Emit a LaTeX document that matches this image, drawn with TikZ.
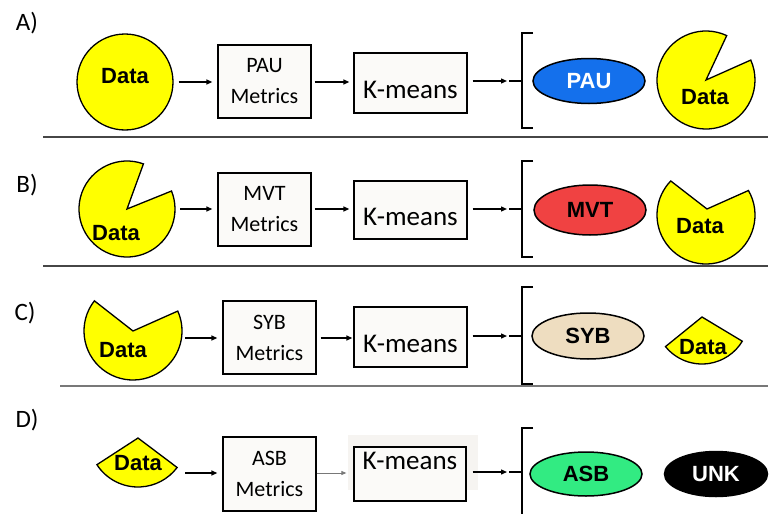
\documentclass[tikz,border=0pt]{standalone}
\usepackage{fontspec}
\setmainfont{Carlito}
\newfontfamily\arialfont{Liberation Sans}
\usetikzlibrary{arrows.meta,shapes.geometric,calc}

\definecolor{datayellow}{RGB}{255,255,0}
\definecolor{paublue}{RGB}{20,112,236}
\definecolor{mvtred}{RGB}{240,66,66}
\definecolor{sybtan}{RGB}{238,221,192}
\definecolor{asbgreen}{RGB}{50,235,130}
\definecolor{boxfill}{RGB}{251,250,248}
\definecolor{kmshade}{RGB}{246,244,241}
\definecolor{sepgray}{RGB}{70,70,70}
\definecolor{sepgraylight}{RGB}{120,120,120}

\tikzset{
  panellabel/.style={font=\fontsize{25}{30}\selectfont, inner sep=0},
  metbox/.style={draw, line width=1.3pt, fill=boxfill, minimum width=93pt,
    minimum height=73pt, align=center, inner sep=0,
    font=\fontsize{22}{31}\selectfont},
  kmbox/.style={draw=black, line width=1.3pt, fill=boxfill, minimum width=113pt, inner sep=0},
  kmtext/.style={font=\fontsize{27}{32}\selectfont, inner sep=0},
  flow/.style={line width=1.3pt, -{Triangle[length=6pt,width=5pt]}},
  sepline/.style={line width=1.2pt, draw=sepgray},
  brk/.style={line width=1.3pt},
  cls/.style={ellipse, draw, line width=1.5pt, inner sep=0,
    font=\arialfont\bfseries\fontsize{22}{26}\selectfont},
  pie/.style={fill=datayellow, draw, line width=1.3pt, line join=miter},
  datatext/.style={font=\arialfont\bfseries\fontsize{22}{26}\selectfont, inner sep=0},
}

\begin{document}
\begin{tikzpicture}[x=1pt,y=1pt]
\useasboundingbox (0,0) rectangle (771,-514);

% ---------- A) ----------
\node[panellabel] (labA) at (27,-23) {A)};
\node[circle, pie, minimum size=96pt, inner sep=0] (dataA) at (125,-82) {};
\node[datatext] (dtA) at (125,-76) {Data};
\node[metbox] (metA) at (264.5,-81.5) {PAU\\Metrics};
\node[kmbox, minimum height=60pt] (kmA) at (410.5,-83) {};
\node[kmtext] (kmtA) at (410.5,-90) {K-means};
\coordinate (tipA) at (507,-81);
\draw[flow, shorten <=5pt, shorten >=5pt] (dataA.east) -- (metA.west |- dataA.east);
\draw[flow, shorten <=3pt, shorten >=4pt] (metA.east |- dataA.east) -- (kmA.west |- dataA.east);
\draw[flow, shorten <=5pt] (kmA.east |- tipA) -- (tipA);
\draw[brk] (533,-33) -- (522,-33) -- (522,-128) -- (533,-128);
\draw[brk] (522,-81) -- (509,-81);
\node[cls, fill=paublue, text=white, minimum width=112pt, minimum height=45pt] (pau) at (589,-81) {PAU};
\draw[pie] (706,-80) -- ++(65:49) arc[start angle=65, end angle=384, radius=49] -- cycle;
\node[datatext] (outA) at (705,-97) {Data};
\draw[sepline] (43,-137) -- (768,-137);

% ---------- B) ----------
\node[panellabel] (labB) at (27,-185) {B)};
\draw[pie] (127,-209) -- ++(70:48) arc[start angle=70, end angle=382, radius=48] -- cycle;
\node[datatext] (dataB) at (116,-233) {Data};
\coordinate (startB) at (175,-209);
\node[metbox] (metB) at (264.5,-209.5) {MVT\\Metrics};
\node[kmbox, minimum height=58pt] (kmB) at (410.5,-210) {};
\node[kmtext] (kmtB) at (410.5,-217) {K-means};
\coordinate (tipB) at (507,-209);
\draw[flow, shorten <=5pt, shorten >=5pt] (startB) -- (metB.west |- startB);
\draw[flow, shorten <=3pt, shorten >=4pt] (metB.east |- startB) -- (kmB.west |- startB);
\draw[flow, shorten <=5pt] (kmB.east |- tipB) -- (tipB);
\draw[brk] (533,-161) -- (522,-161) -- (522,-257) -- (533,-257);
\draw[brk] (522,-209) -- (509,-209);
\node[cls, fill=mvtred, minimum width=112pt, minimum height=50pt] (mvt) at (590,-210) {MVT};
\draw[pie] (707,-209) -- ($(706,-215)+(30:49)$) arc[start angle=30, end angle=-224, radius=49] -- cycle;
\node[datatext] (outB) at (700,-226) {Data};
\draw[sepline] (43,-266) -- (768,-266);

% ---------- C) ----------
\node[panellabel] (labC) at (25,-313) {C)};
\draw[pie] (133,-331) -- ++(142:49) arc[start angle=142, end angle=384, radius=49] -- cycle;
\node[datatext] (dataC) at (123,-350) {Data};
\coordinate (startC) at (182,-338);
\node[metbox] (metC) at (269.5,-337.5) {SYB\\Metrics};
\node[kmbox, minimum height=60pt] (kmC) at (410.5,-337) {};
\node[kmtext] (kmtC) at (410.5,-344) {K-means};
\coordinate (tipC) at (507,-336);
\draw[flow, shorten <=3pt, shorten >=5pt] (startC) -- (metC.west |- startC);
\draw[flow, shorten <=4pt, shorten >=1pt] (metC.east |- startC) -- (kmC.west |- startC);
\draw[flow, shorten <=5pt] (kmC.east |- tipC) -- (tipC);
\draw[brk] (533,-287) -- (522,-287) -- (522,-384) -- (533,-384);
\draw[brk] (522,-336) -- (509,-336);
\node[cls, fill=sybtan, minimum width=112pt, minimum height=46pt] (syb) at (588,-336) {SYB};
\draw[pie] (702,-317) -- ++(219:47) arc[start angle=219, end angle=329, radius=47] -- cycle;
\node[datatext] (outC) at (703,-347) {Data};
\draw[sepline, draw=sepgraylight] (60,-386) -- (768,-386);

% ---------- D) ----------
\node[panellabel] (labD) at (27,-420) {D)};
\draw[pie] (138,-438) -- ++(213:49) arc[start angle=213, end angle=323, radius=49] -- cycle;
\node[datatext] (dataD) at (138,-463) {Data};
\coordinate (startD) at (182,-473);
\node[metbox, minimum height=74pt] (metD) at (269.5,-474) {ASB\\Metrics};
% faint backdrop behind the K-means box
\fill[kmshade] (348,-435) rectangle (478,-490);
\node[kmbox, minimum width=112pt, minimum height=54pt] (kmD) at (410,-474) {};
\draw[black, line width=1.3pt] (kmD.south west) rectangle (kmD.north east);
\node[kmtext] (kmtD) at (410,-461) {K-means};
\coordinate (tipD) at (507,-472);
\draw[flow, shorten <=3pt, shorten >=5pt] (startD) -- (metD.west |- startD);
\draw[line width=0.8pt, draw=sepgraylight, -{Triangle[length=5pt,width=4pt]}, shorten >=7pt] (metD.east |- startD) -- (kmD.west |- startD);
\draw[flow, shorten <=6pt] (kmD.east |- tipD) -- (tipD);
\draw[brk] (533,-428) -- (522,-428) -- (522,-516);
\draw[brk] (522,-472) -- (509,-472);
\node[cls, fill=asbgreen, minimum width=112pt, minimum height=44pt] (asb) at (586,-474) {ASB};
\node[cls, fill=black, text=white, minimum width=103pt, minimum height=45pt] (unk) at (716,-474) {UNK};
\end{tikzpicture}
\end{document}
